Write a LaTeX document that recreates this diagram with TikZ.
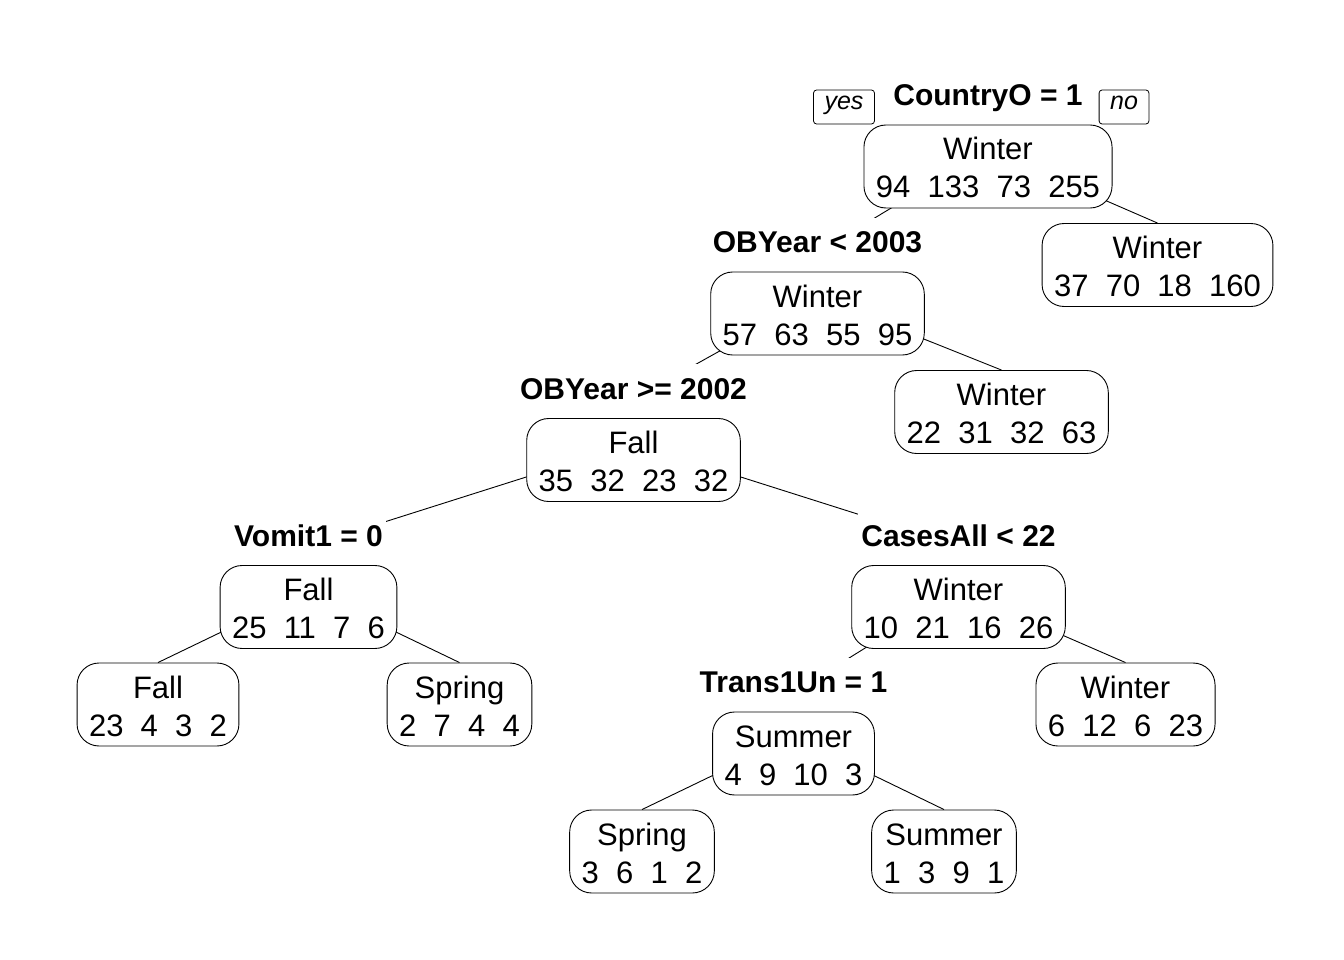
\documentclass[tikz,border=0pt]{standalone}
\usepackage{fontspec}
\setmainfont{Liberation Sans}
\usetikzlibrary{positioning, backgrounds}

\newcommand{\boxtext}[2]{\rule{0pt}{30pt}#1\\#2\rule[-5pt]{0pt}{5pt}}

\begin{document}
\begin{tikzpicture}[x=1pt, y=-1pt,
    treebox/.style={draw, fill=white, rounded corners=22pt, align=center,
      inner xsep=12pt, inner ysep=5pt, line width=0.9pt,
      font=\fontsize{31}{38}\selectfont},
    splitlab/.style={fill=white, font=\bfseries\fontsize{30}{35}\selectfont,
      text height=21pt, text depth=0pt, inner xsep=3pt, inner ysep=14pt},
    yntag/.style={draw, rounded corners=3pt, line width=0.8pt,
      font=\itshape\fontsize{25}{25}\selectfont,
      text height=12pt, text depth=6pt, inner xsep=11pt, inner ysep=8pt},
    link/.style={line width=0.9pt}]
  \useasboundingbox (0,0) rectangle (1344,960);

  % boxes of the tree
  \node[treebox] (country) at (988,166.5) {\boxtext{Winter}{94~~133~~73~~255}};
  \node[treebox] (winR) at (1157.5,265) {\boxtext{Winter}{37~~70~~18~~160}};
  \node[treebox] (oby3) at (817.5,313.5) {\boxtext{Winter}{57~~63~~55~~95}};
  \node[treebox] (winR2) at (1001.5,412) {\boxtext{Winter}{22~~31~~32~~63}};
  \node[treebox] (oby2) at (633.5,460) {\boxtext{Fall}{35~~32~~23~~32}};
  \node[treebox] (vomit) at (308.5,607) {\boxtext{Fall}{25~~11~~7~~6}};
  \node[treebox] (fallL) at (158,704.5) {\boxtext{Fall}{23~~4~~3~~2}};
  \node[treebox] (springL) at (459.5,704.5) {\boxtext{Spring}{2~~7~~4~~4}};
  \node[treebox] (cases) at (958.5,607) {\boxtext{Winter}{10~~21~~16~~26}};
  \node[treebox] (winR3) at (1125.5,704.5) {\boxtext{Winter}{6~~12~~6~~23}};
  \node[treebox] (trans) at (793.5,753.5) {\boxtext{Summer}{4~~9~~10~~3}};
  \node[treebox] (springB) at (642,851.5) {\boxtext{Spring}{3~~6~~1~~2}};
  \node[treebox] (summerB) at (944,851.5) {\boxtext{Summer}{1~~3~~9~~1}};

  % split labels
  \node[splitlab, above=19pt of country, anchor=base] (countrylab) {CountryO = 1};
  \node[splitlab, above=19pt of oby3, anchor=base] (oby3lab) {OBYear < 2003};
  \node[splitlab, above=19pt of oby2, anchor=base] (oby2lab) {OBYear >= 2002};
  \node[splitlab, above=19pt of vomit, anchor=base] (vomitlab) {Vomit1 = 0};
  \node[splitlab, above=19pt of cases, anchor=base] (caseslab) {CasesAll < 22};
  \node[splitlab, above=19pt of trans, anchor=base] (translab) {Trans1Un = 1};

  \node[yntag] (yes) at (844,107) {yes};
  \node[yntag] (no) at (1124,107) {no};

  % branches, drawn behind the boxes
  \begin{scope}[on background layer]
    \draw[link] ([yshift=17pt]country.center) -- (oby3lab.base);
    \draw[link] ([yshift=17pt]country.center) -- (winR.north);
    \draw[link] ([yshift=17pt]oby3.center) -- (oby2lab.base);
    \draw[link] ([yshift=17pt]oby3.center) -- (winR2.north);
    \draw[link] ([yshift=17pt]oby2.center) -- (vomitlab.base);
    \draw[link] ([yshift=17pt]oby2.center) -- (caseslab.base);
    \draw[link] ([yshift=17pt]vomit.center) -- (fallL.north);
    \draw[link] ([yshift=17pt]vomit.center) -- (springL.north);
    \draw[link] ([yshift=17pt]cases.center) -- (translab.base);
    \draw[link] ([yshift=17pt]cases.center) -- (winR3.north);
    \draw[link] ([yshift=17pt]trans.center) -- (springB.north);
    \draw[link] ([yshift=17pt]trans.center) -- (summerB.north);
  \end{scope}
\end{tikzpicture}
\end{document}
